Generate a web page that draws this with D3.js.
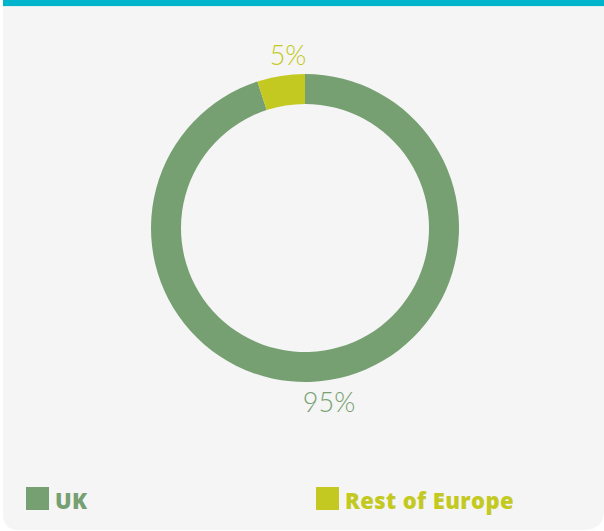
<!DOCTYPE html>
<html><head><meta charset="utf-8">
<script src="https://cdn.jsdelivr.net/npm/d3@7"></script>
<style>html,body{margin:0;padding:0;background:#fff;}svg{display:block;}</style>
</head><body>
<svg id="c" width="604" height="531"></svg>
<script>
const categories = ["UK", "Rest of Europe"];
const values = [95, 5];
const labels = ["95%", "5%"];
const colors = ["#76a072", "#c3c921"];

const svg = d3.select("#c");
// panel
svg.append("path")
  .attr("d", "M3,0 H604 V510 Q604,530 584,530 H19 Q3,530 3,514 Z")
  .attr("fill", "#f5f5f5");
svg.append("rect").attr("x", 3).attr("y", 0).attr("width", 601).attr("height", 6).attr("fill", "#00b4cc");
svg.append("rect").attr("x", 3).attr("y", 6).attr("width", 601).attr("height", 1).attr("fill", "#d9f0f3");

const cx = 305, cy = 228, R = 154, r = 124;
const pie = d3.pie().sort(null).value(d => d);
const arcs = pie(values);
const arc = d3.arc().innerRadius(r).outerRadius(R);
const g = svg.append("g").attr("transform", `translate(${cx},${cy})`);
g.selectAll("path").data(arcs).enter().append("path")
  .attr("d", arc).attr("fill", (d, i) => colors[i]);

// labels
const labelPos = [[329, 412], [288, 65]];
svg.selectAll("text.lbl").data(labels).enter().append("text")
  .attr("class", "lbl")
  .attr("x", (d, i) => labelPos[i][0]).attr("y", (d, i) => labelPos[i][1])
  .attr("text-anchor", "middle")
  .attr("font-family", "Lato, sans-serif").attr("font-weight", 300)
  .attr("font-size", 27)
  .attr("fill", (d, i) => colors[i])
  .text(d => d);

// legend
const legX = [26, 316];
const lg = svg.selectAll("g.leg").data(categories).enter().append("g")
  .attr("class", "leg").attr("transform", (d, i) => `translate(${legX[i]},487)`);
lg.append("rect").attr("width", 23).attr("height", 23).attr("fill", (d, i) => colors[i]);
lg.append("text").attr("x", 29).attr("y", 22)
  .attr("font-family", "'Open Sans', sans-serif").attr("font-weight", 800)
  .attr("font-size", 22).attr("letter-spacing", 0.4)
  .attr("fill", (d, i) => colors[i])
  .text(d => d);
</script>
</body></html>
